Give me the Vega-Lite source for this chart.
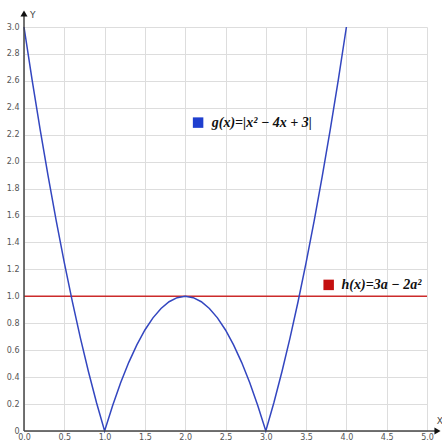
{
  "$schema": "https://vega.github.io/schema/vega-lite/v6.json",
  "width": 403,
  "height": 404,
  "autosize": {"type": "none"},
  "padding": {"left": 24, "top": 27, "right": 15, "bottom": 10},
  "background": "white",
  "config": {"view": {"stroke": null}, "axis": {"labelOverlap": false, "labelBound": false}},
  "datasets": {
    "g": [
      {"x": 0, "y": 3}, {"x": 0.1, "y": 2.61}, {"x": 0.2, "y": 2.24}, {"x": 0.3, "y": 1.89}, {"x": 0.4, "y": 1.56},
      {"x": 0.5, "y": 1.25}, {"x": 0.6, "y": 0.96}, {"x": 0.7, "y": 0.69}, {"x": 0.8, "y": 0.44}, {"x": 0.9, "y": 0.21},
      {"x": 1.0, "y": 0}, {"x": 1.1, "y": 0.19}, {"x": 1.2, "y": 0.36}, {"x": 1.3, "y": 0.51}, {"x": 1.4, "y": 0.64},
      {"x": 1.5, "y": 0.75}, {"x": 1.6, "y": 0.84}, {"x": 1.7, "y": 0.91}, {"x": 1.8, "y": 0.96}, {"x": 1.9, "y": 0.99},
      {"x": 2.0, "y": 1}, {"x": 2.1, "y": 0.99}, {"x": 2.2, "y": 0.96}, {"x": 2.3, "y": 0.91}, {"x": 2.4, "y": 0.84},
      {"x": 2.5, "y": 0.75}, {"x": 2.6, "y": 0.64}, {"x": 2.7, "y": 0.51}, {"x": 2.8, "y": 0.36}, {"x": 2.9, "y": 0.19},
      {"x": 3.0, "y": 0}, {"x": 3.1, "y": 0.21}, {"x": 3.2, "y": 0.44}, {"x": 3.3, "y": 0.69}, {"x": 3.4, "y": 0.96},
      {"x": 3.5, "y": 1.25}, {"x": 3.6, "y": 1.56}, {"x": 3.7, "y": 1.89}, {"x": 3.8, "y": 2.24}, {"x": 3.9, "y": 2.61},
      {"x": 4.0, "y": 3}
    ],
    "h": [{"x": 0, "y": 1}, {"x": 5, "y": 1}],
    "axesH": [{"x": 0, "x2": 5.13, "y": 0}],
    "axesV": [{"x": 0, "y": 0, "y2": 3.1}],
    "arrowX": [{"x": 5.13, "y": 0}],
    "arrowY": [{"x": 0, "y": 3.1}],
    "axisLabels": [{"x": 5.16, "y": 0.075, "t": "X"}, {"x": 0.11, "y": 3.09, "t": "Y"}],
    "legend": [
      {"x": 2.16, "y": 2.29, "tx": 2.33, "t": "g(x)=|x² − 4x + 3|", "s": "g"},
      {"x": 3.78, "y": 1.085, "tx": 3.94, "t": "h(x)=3a − 2a²", "s": "h"}
    ]
  },
  "layer": [
    {
      "data": {"name": "h"},
      "mark": {"type": "line", "color": "#cc2b2b", "strokeWidth": 1.5},
      "encoding": {
        "x": {"field": "x", "type": "quantitative", "scale": {"domain": [0, 5], "nice": false},
          "axis": {"values": [0, 0.5, 1, 1.5, 2, 2.5, 3, 3.5, 4, 4.5, 5], "tickCount": 11, "format": ".1f", "title": null, "domain": false, "ticks": false, "labelOverlap": false,
            "gridColor": "#dddddd", "gridOpacity": 1, "labelColor": "#555555", "labelFontSize": 8, "labelFont": "DejaVu Sans", "labelPadding": 2, "labelFlush": false}},
        "y": {"field": "y", "type": "quantitative", "scale": {"domain": [0, 3], "nice": false},
          "axis": {"values": [0, 0.2, 0.4, 0.6, 0.8, 1, 1.2, 1.4, 1.6, 1.8, 2, 2.2, 2.4, 2.6, 2.8, 3], "tickCount": 16, "labelExpr": "datum.value == 0 ? '0' : format(datum.value, '.1f')", "title": null, "domain": false, "ticks": false, "labelOverlap": false,
            "gridColor": "#dddddd", "gridOpacity": 1, "labelColor": "#555555", "labelFontSize": 8, "labelFont": "DejaVu Sans", "labelPadding": 5, "labelFlush": false}}
      }
    },
    {
      "data": {"name": "g"},
      "mark": {"type": "line", "color": "#3346c0", "strokeWidth": 1.5},
      "encoding": {
        "x": {"field": "x", "type": "quantitative"},
        "y": {"field": "y", "type": "quantitative"}
      }
    },
    {
      "data": {"name": "axesH"},
      "mark": {"type": "rule", "color": "#444444", "strokeWidth": 1.5},
      "encoding": {
        "x": {"field": "x", "type": "quantitative"},
        "x2": {"field": "x2"},
        "y": {"field": "y", "type": "quantitative"}
      }
    },
    {
      "data": {"name": "axesV"},
      "mark": {"type": "rule", "color": "#444444", "strokeWidth": 1.5},
      "encoding": {
        "x": {"field": "x", "type": "quantitative"},
        "y": {"field": "y", "type": "quantitative"},
        "y2": {"field": "y2"}
      }
    },
    {
      "data": {"name": "arrowX"},
      "mark": {"type": "point", "shape": "triangle-right", "filled": true, "color": "#111111", "size": 50, "opacity": 1},
      "encoding": {
        "x": {"field": "x", "type": "quantitative"},
        "y": {"field": "y", "type": "quantitative"}
      }
    },
    {
      "data": {"name": "arrowY"},
      "mark": {"type": "point", "shape": "triangle-up", "filled": true, "color": "#111111", "size": 50, "opacity": 1},
      "encoding": {
        "x": {"field": "x", "type": "quantitative"},
        "y": {"field": "y", "type": "quantitative"}
      }
    },
    {
      "data": {"name": "axisLabels"},
      "mark": {"type": "text", "font": "DejaVu Sans", "fontSize": 9, "color": "#444444", "align": "center", "baseline": "middle"},
      "encoding": {
        "x": {"field": "x", "type": "quantitative"},
        "y": {"field": "y", "type": "quantitative"},
        "text": {"field": "t"}
      }
    },
    {
      "data": {"name": "legend"},
      "mark": {"type": "point", "shape": "square", "filled": true, "size": 110, "opacity": 1},
      "encoding": {
        "x": {"field": "x", "type": "quantitative"},
        "y": {"field": "y", "type": "quantitative"},
        "color": {"field": "s", "type": "nominal", "scale": {"domain": ["g", "h"], "range": ["#1f3fcf", "#c40f0f"]}, "legend": null}
      }
    },
    {
      "data": {"name": "legend"},
      "mark": {"type": "text", "font": "Liberation Serif", "fontSize": 14, "fontStyle": "italic", "fontWeight": "bold", "color": "#111111", "align": "left", "baseline": "middle"},
      "encoding": {
        "x": {"field": "tx", "type": "quantitative"},
        "y": {"field": "y", "type": "quantitative"},
        "text": {"field": "t"}
      }
    }
  ]
}
